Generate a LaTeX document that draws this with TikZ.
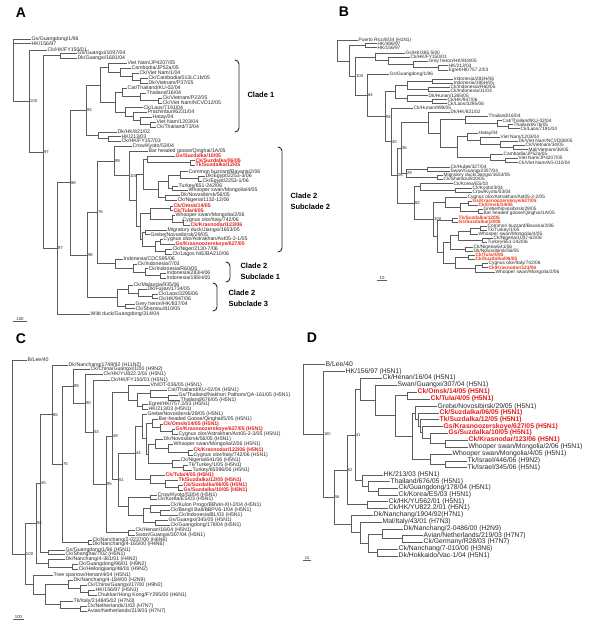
\documentclass[tikz,border=0pt]{standalone}
\usepackage{fontspec}
\setmainfont{Liberation Sans}
\usetikzlibrary{calc}

\definecolor{hired}{RGB}{226,30,28}
\definecolor{hiorange}{RGB}{236,58,22}
\definecolor{brgray}{RGB}{92,92,92}
\definecolor{txtgray}{RGB}{40,40,40}

\newcommand{\lfs}{5.2}
\newcommand{\fsz}[1]{\fontsize{#1}{#1}\selectfont}

\tikzset{
  br/.style={line width=0.6pt, brgray},
  lf/.style={anchor=west, inner sep=0.5pt, text=txtgray, font=\fsz{\lfs}},
  lfr/.style={lf, text=hired, font=\fsz{\lfs}\bfseries},
  bs/.style={anchor=west, inner sep=0.8pt, text=txtgray, font=\fsz{4.3}},
}

% leaf = end point of a branch + its label
\newcommand{\leaf}[4]{\coordinate (#1) at (#2,#3); \node[lf] (#1t) at (#1) {#4};}
\newcommand{\leafr}[4]{\coordinate (#1) at (#2,#3); \node[lfr] (#1t) at (#1) {#4};}
% clade: name, x, upper child, lower child (sits half way between them)
\newcommand{\clade}[4]{%
  \path let \p1=($(#3)!.5!(#4)$) in (#2pt,\y1) coordinate (#1);
  \draw[br] (#1) |- (#3);
  \draw[br] (#1) |- (#4);}
\newcommand{\cladeiii}[5]{%
  \path let \p1=($(#3)!.5!(#5)$) in (#2pt,\y1) coordinate (#1);
  \draw[br] (#1) |- (#3);
  \draw[br] (#1) |- (#4);
  \draw[br] (#1) |- (#5);}
\newcommand{\boot}[2]{\node[bs] (#1b) at (#1) {#2};}
% bracket: x, top, bottom
\newcommand{\brk}[3]{\draw[brc] ({#1-4},#2) to[out=0,in=90] (#1,{#2+4}) -- (#1,{#3-4}) to[out=-90,in=0] ({#1-4},#3);}

\begin{document}
\begin{tikzpicture}[x=1pt, y=-1pt,
  title/.style={font=\fsz{14}\bfseries, text=black},
  cladetxt/.style={anchor=west, align=left, font=\fontsize{7.5}{10.5}\selectfont\bfseries},
  brc/.style={line width=0.9pt, black!85, line cap=round},
  scl/.style={bs, anchor=south, inner sep=0.6pt}
]
\useasboundingbox (0,0) rectangle (600,630);
\fill[white] (0,0) rectangle (600,630);

%--- Panel A ---
\begin{scope}
\node[title] (ttlA) at (21,13) {A};
\leaf{a1}{31}{39.5}{Gs/Guangdong/1/96}
\leaf{a2}{31}{43.5}{HK/156/97}
\leaf{a3}{47}{50}{Ck/HK/FY150/01}
\leaf{a4}{77}{53.5}{Gs/Guangxi/1097/04}
\leaf{a5}{77}{58}{Dk/Guangxi/1681/04}
\leaf{a6}{127}{63}{Viet Nam/JP4207/05}
\leaf{a7}{131}{68}{Cambodia/JP52a/05}
\leaf{a8}{139}{73}{Ck/Viet Nam/1/04}
\leaf{a9}{148}{78}{Ck/Cambodia/013LC1b/05}
\leaf{a10}{148}{83}{Dk/Vietnam/P37/05}
\leaf{a11}{127}{88}{Cat/Thailand/KU-02/04}
\leaf{a12}{146}{93}{Thailand/16/04}
\leaf{a13}{162}{98}{Ck/Vietnam/P22/05}
\leaf{a14}{162}{103}{Ck/Viet Nam/NCVD12/05}
\leaf{a15}{143}{107.5}{Ck/Laos/7191/04}
\leaf{a16}{147}{112}{Prachinburi/6231/04}
\leaf{a17}{152}{117}{Hatay/04}
\leaf{a18}{156}{122}{Viet Nam/1203/04}
\leaf{a19}{156}{127}{Ck/Thailand/73/04}
\leaf{a20}{117}{132}{Dk/HK/821/02}
\leaf{a21}{121}{136.5}{HK/213/03}
\leaf{a22}{121}{141}{Ck/HK/FY157/03}
\leaf{a23}{132}{146}{Crow/Kyoto/53/04}
\leaf{a24}{148}{151}{Bar headed goose/Qinghai/1A/05}
\leafr{a25}{175}{156}{Gs/Suzdalka/10/05}
\leafr{a26}{195}{160.5}{Ck/Suzdalka/06/05}
\leafr{a27}{195}{165}{Tk/Suzdalka/12/05}
\leaf{a28}{188}{171.5}{Common buzzard/Bavaria/2/06}
\leaf{a29}{205}{176.5}{Dk/Egypt/2253-3/06}
\leaf{a30}{202}{181}{Ck/Egypt/2253-1/06}
\leaf{a31}{178}{186}{Turkey/651-242/06}
\leaf{a32}{188}{190.5}{Whooper swan/Mongolia/4/05}
\leaf{a33}{180}{195}{Dk/Novosibirsk/56/05}
\leaf{a34}{177}{200}{Ck/Nigeria/1132-12/06}
\leafr{a35}{173}{206}{Ck/Omsk/14/05}
\leafr{a36}{173}{210.5}{Ck/Tula/4/05}
\leaf{a37}{175}{215.5}{Whooper swan/Mongolia/2/06}
\leaf{a38}{182}{220}{Cygnus olor/Italy/742/06}
\leafr{a39}{190}{225}{Ck/Krasnodar/123/06}
\leaf{a40}{167}{230}{Migratory duck/Jiangxi/1653/05}
\leaf{a41}{150}{234.5}{Grebe/Novosibirsk/29/05}
\leaf{a42}{163}{239}{Cygnus olor/Astrakhan/Ast05-2-1/05}
\leafr{a43}{175}{244}{Gs/Krasnoozerskoye/627/05}
\leaf{a44}{172}{249}{Ck/Niger/2130-7/06}
\leaf{a45}{172}{254}{Ck/Lagos NIE/BA210/06}
\leaf{a46}{123}{259}{Indonesia/CDC595/06}
\leaf{a47}{137}{264}{Ck/Indonesia/7/03}
\leaf{a48}{148}{268.5}{Ck/Indonesia/R60/05}
\leaf{a49}{166}{273}{Indonesia/283H/06}
\leaf{a50}{166}{278}{Indonesia/195H/05}
\leaf{a51}{133}{285}{Ck/Malaysia/935/06}
\leaf{a52}{147}{289.5}{Dk/Fujian/1734/05}
\leaf{a53}{158}{294}{Ck/Laos/3295/06}
\leaf{a54}{158}{298.5}{Ck/HK/947/06}
\leaf{a55}{135}{304}{Grey heron/HK/837/04}
\leaf{a56}{135}{308.5}{Ck/Shantou/810/05}
\leaf{a57}{90}{314}{Wild duck/Guangdong/314/04}

% clade 1
\clade{ap1}{140}{a9}{a10}
\clade{ap2}{132}{a8}{ap1}
\clade{ap3}{120}{a7}{ap2}
\clade{ap4}{108}{a6}{ap3}
\clade{ap5}{158}{a13}{a14}
\clade{ap6}{140}{a12}{ap5}
\clade{ap7}{122}{a11}{ap6}
\clade{ap8}{150}{a18}{a19}
\clade{ap9}{140}{a17}{ap8}
\clade{ap10}{133}{a16}{ap9}
\clade{ap11}{125}{a15}{ap10}
\clade{ap12}{115}{ap7}{ap11}
\clade{acl1}{100}{ap4}{ap12}
\clade{ahk1}{108}{a21}{a22}
\clade{ahk}{98}{a20}{ahk1}
\clade{aN93}{86}{acl1}{ahk}
% clade 2, subclade 2
\clade{as1}{190}{a26}{a27}
\clade{as2}{147}{a25}{as1}
\clade{ae1}{198}{a29}{a30}
\clade{ae2}{180}{a28}{ae1}
\clade{atw}{172}{a31}{a32}
\clade{ae3}{168}{ae2}{atw}
\clade{ang}{165}{a33}{a34}
\clade{ae4}{158}{ae3}{ang}
\clade{aot}{170}{a35}{a36}
\clade{aik}{183}{a38}{a39}
\clade{awi}{172}{a37}{aik}
\clade{ae5}{150}{aot}{awi}
\clade{amg}{145}{a40}{a41}
\clade{aak}{160}{a42}{a43}
\clade{anl}{165}{a44}{a45}
\clade{ae6}{155}{aak}{anl}
\clade{ae7}{142}{amg}{ae6}
\clade{aq1}{143}{as2}{ae4}
\clade{aq2}{140}{ae5}{ae7}
\clade{aq}{136}{aq1}{aq2}
\clade{aqh}{129}{a24}{aq}
\clade{aN99}{114}{a23}{aqh}
% subclades 1 and 3
\clade{ai1}{160}{a49}{a50}
\clade{ai2}{145}{a48}{ai1}
\clade{ai3}{133}{a47}{ai2}
\clade{asc1}{115}{a46}{ai3}
\clade{aN76}{97}{aN99}{asc1}
\clade{am1}{152}{a53}{a54}
\clade{am2}{138}{a52}{am1}
\clade{am3}{128}{a51}{am2}
\clade{agh}{125}{a55}{a56}
\clade{asc3}{117}{am3}{agh}
\clade{aN98}{87}{aN76}{asc3}
% backbone
\clade{aN88}{70}{aN93}{aN98}
\clade{aN87}{57}{aN88}{a57}
\clade{agx}{60}{a4}{a5}
\clade{aN97}{43}{agx}{aN87}
\clade{aN100}{29}{a3}{aN97}
\cladeiii{aroot}{13}{a1}{a2}{aN100}

\boot{aN100}{100} \boot{aN97}{97} \boot{aN87}{87} \boot{aN88}{88}
\boot{aN93}{93} \boot{aN98}{98} \boot{aN76}{76} \boot{aN99}{99}
\boot{aqh}{100}

\brk{239}{60}{132}
\node[cladetxt] (acl1t) at (244,95) {Clade 1};
\brk{282}{147}{252}
\node[cladetxt] (acl22t) at (287,201.5) {Clade 2\\Subclade 2};
\brk{230}{262}{282}
\node[cladetxt] (acl21t) at (237,271.5) {Clade 2\\Subclade 1};
\brk{217}{283}{311}
\node[cladetxt] (acl23t) at (225,298.5) {Clade 2\\Subclade 3};

\draw[br] (13,321) -- (27,321);
\node[scl] (ascale) at (20,321) {100};
\end{scope}

%--- Panel B ---
\begin{scope}[lfr/.append style={text=hiorange}]
\renewcommand{\lfs}{4.8}
\node[title] (ttlB) at (344,12) {B};
\leaf{b1}{358}{40}{Puerto Rico/8/34 (H1N1)}
\leaf{b2}{377}{43.5}{HK/486/97}
\leaf{b3}{377}{47.5}{HK/156/97}
\leaf{b4}{405}{53}{Gs/HK/385.5/00}
\leaf{b5}{410}{57}{Ck/HK/FY150/01}
\leaf{b6}{428}{61}{Grey heron/HK/818/05}
\leaf{b7}{448}{65.5}{HK/213/03}
\leaf{b8}{448}{70}{Egret/HK/757.2/03}
\leaf{b9}{389}{74}{Gs/Guangdong/1/96}
\leaf{b10}{453}{79}{Indonesia/283H/06}
\leaf{b11}{453}{83}{Indonesia/195H/05}
\leaf{b12}{450}{87}{Ck/Indonesia/R60/05}
\leaf{b13}{450}{91}{Ck/Indonesia/11/03}
\leaf{b14}{428}{95.5}{Dk/Hunan/1265/05}
\leaf{b15}{447}{99.5}{Ck/HK/947/06}
\leaf{b16}{447}{103.5}{Ck/Laos/3295/06}
\leaf{b17}{413}{108}{Ck/Hunan/999/05}
\leaf{b18}{450}{112}{Dk/HK/821/02}
\leaf{b19}{488}{116}{Thailand/16/04}
\leaf{b20}{502}{120.5}{Cat/Thailand/KU-02/04}
\leaf{b21}{513}{124.5}{Thailand/676/05}
\leaf{b22}{520}{128.5}{Ck/Laos/7191/04}
\leaf{b23}{478}{133}{Hatay/04}
\leaf{b24}{500}{137}{Viet Nam/1203/04}
\leaf{b25}{518}{141}{Dk/Viet Nam/NCVD08/05}
\leaf{b26}{525}{145}{Ck/Vietnam/34/05}
\leaf{b27}{528}{149.5}{Mal/Vietnam/36/05}
\leaf{b28}{503}{154}{Cambodia/JP52a/05}
\leaf{b29}{518}{158}{Viet Nam/JP4207/05}
\leaf{b30}{518}{162.5}{Ck/Viet Nam/AG-010/04}
\leaf{b31}{450}{167}{Ck/Hubei/327/04}
\leaf{b32}{450}{171}{Swan/Guangxi/307/04}
\leaf{b33}{443}{175}{Migratory duck/Jiangxi/1653/05}
\leaf{b34}{443}{179}{Ck/Shantou/810/05}
\leaf{b35}{453}{183.5}{Ck/Korea/ES/03}
\leaf{b36}{472}{188}{Ck/Kyoto/3/04}
\leaf{b37}{472}{192}{Crow/Kyoto/53/04}
\leaf{b38}{467}{197}{Cygnus olor/Astrakhan/Ast05-2-2/05}
\leafr{b39}{472}{201}{Gs/Krasnoozerskoye/627/05}
\leafr{b40}{478}{205}{Ck/Omsk/14/05}
\leaf{b41}{483}{209}{Grebe/Novosibirsk/29/05}
\leaf{b42}{483}{213}{Bar headed goose/Qinghai/1A/05}
\leafr{b43}{458}{218}{Tk/Suzdalka/12/05}
\leafr{b44}{458}{222}{Gs/Suzdalka/10/05}
\leaf{b45}{487}{226}{Common buzzard/Bavaria/2/06}
\leaf{b46}{487}{230}{Tk/Turkey/1/05}
\leaf{b47}{478}{234}{Whooper swan/Mongolia/4/05}
\leaf{b48}{493}{238.5}{Ck/Nigeria/1047-62/06}
\leaf{b49}{487}{242.5}{Turkey/651-242/06}
\leaf{b50}{473}{247}{Ck/Nigeria/641/06}
\leaf{b51}{473}{251}{Dk/Novosibirsk/56/05}
\leafr{b52}{475}{255}{Ck/Tula/4/05}
\leafr{b53}{475}{259}{Ck/Suzdalka/06/05}
\leaf{b54}{488}{263.5}{Cygnus olor/Italy/742/06}
\leafr{b55}{488}{267.5}{Ck/Krasnodar/123/06}
\leaf{b56}{495}{272}{Whooper swan/Mongolia/2/06}

\clade{bhk}{365}{b2}{b3}
\clade{bg1}{438}{b7}{b8}
\clade{bg2}{413}{b6}{bg1}
\clade{bg3}{388}{b5}{bg2}
\clade{bg4}{375}{b4}{bg3}
\clade{bi1}{432}{b10}{b11}
\clade{bi2}{428}{b12}{b13}
\clade{bi3}{407}{bi1}{bi2}
\clade{bh1}{432}{b15}{b16}
\clade{bh2}{407}{b14}{bh1}
\clade{bi4}{395}{bi3}{bh2}
\clade{bt1}{508}{b21}{b22}
\clade{bt2}{497}{b20}{bt1}
\clade{bt3}{465}{b19}{bt2}
\clade{bv1}{513}{b26}{b27}
\clade{bv2}{500}{b25}{bv1}
\clade{bv3}{480}{b24}{bv2}
\clade{bv4}{467}{b23}{bv3}
\clade{bc1}{505}{b29}{b30}
\clade{bc2}{490}{b28}{bc1}
\clade{bv5}{457}{bv4}{bc2}
\clade{btv}{440}{bt3}{bv5}
\clade{bd1}{428}{b18}{btv}
\clade{bhs}{427}{b31}{b32}
\clade{bms}{437}{b33}{b34}
\clade{bN29}{406}{bhs}{bms}
\clade{bky}{455}{b36}{b37}
\clade{bk1}{420}{b35}{bky}
\clade{bq1a}{468}{b39}{b40}
\clade{bq1b}{478}{b41}{b42}
\clade{bq1c}{460}{bq1a}{bq1b}
\clade{bq1}{445}{b38}{bq1c}
\clade{bsu}{452}{b43}{b44}
\clade{bbb}{480}{b45}{b46}
\clade{bwh}{470}{b47}{bbb}
\clade{bng}{482}{b48}{b49}
\clade{bq3a}{458}{bwh}{bng}
\clade{bnd}{465}{b50}{b51}
\clade{bq3b}{450}{bq3a}{bnd}
\clade{bts}{468}{b52}{b53}
\clade{bik}{482}{b54}{b55}
\clade{bik2}{475}{bik}{b56}
\clade{bq3c}{455}{bts}{bik2}
\clade{bq3}{443}{bq3b}{bq3c}
\clade{bq2}{437}{bsu}{bq3}
\clade{bq}{433}{bq1}{bq2}
\clade{bN62}{414}{bk1}{bq}
\clade{bN36}{401}{bd1}{bN29}
\clade{bN26}{397}{bN36}{bN62}
\clade{bN40}{391}{b17}{bN26}
\clade{bN94}{385}{bi4}{bN40}
\clade{bN64}{367}{b9}{bN94}
\clade{bN100}{355}{bg4}{bN64}
\clade{bX1}{349}{bhk}{bN100}
\clade{broot}{337}{b1}{bX1}

\boot{bN100}{100} \boot{bN64}{64} \boot{bN94}{94} \boot{bN40}{40}
\boot{bN36}{36} \boot{bN29}{29} \boot{bN26}{26} \boot{bN62}{62}
\boot{bq}{100}

\draw[br] (377,280) -- (387,280);
\node[scl] (bscale) at (382,280) {10};
\end{scope}

%--- Panel C ---
\begin{scope}
\node[title] (ttlC) at (21,339) {C};
\leaf{c1}{27}{360}{B/Lee/40}
\leaf{c2}{68}{365}{Dk/Nanchang/1749/92 (H11N2)}
\leaf{c3}{90}{369.5}{Ck/China/Guangxi/1/00 (H9N2)}
\leaf{c4}{103}{374.5}{Ck/HK/YU822.2/01 (H5N1)}
\leaf{c5}{110}{380}{Ck/HK/FY150/01 (H5N1)}
\leaf{c6}{150}{385}{VN/DT-036/05 (H5N1)}
\leaf{c7}{167}{390}{Cat/Thailand/KU-02/04 (H5N1)}
\leaf{c8}{178}{395}{Gs/Thailand/Nakhon Pathom/QA-161/05 (H5N1)}
\leaf{c9}{180}{400}{Thailand/676/05 (H5N1)}
\leaf{c10}{148}{404.5}{Egret/HK/757.2/03 (H5N1)}
\leaf{c11}{148}{409}{HK/213/03 (H5N1)}
\leaf{c12}{147}{414}{Grebe/Novosibirsk/29/05 (H5N1)}
\leaf{c13}{158}{419}{Bar-headed Goose/Qinghai/5/05 (H5N1)}
\leafr{c14}{163}{424}{Ck/Omsk/14/05 (H5N1)}
\leafr{c15}{175}{429}{Gs/Krasnoozerskoye/627/05 (H5N1)}
\leaf{c16}{178}{434}{Cygnus olor/Astrakhan/Ast05-2-3/05 (H5N1)}
\leaf{c17}{163}{439.5}{Dk/Novosibirsk/56/05 (H5N1)}
\leaf{c18}{173}{444.5}{Whooper swan/Mongolia/2/06 (H5N1)}
\leafr{c19}{193}{450}{Ck/Krasnodar/123/06 (H5N1)}
\leaf{c20}{193}{455}{Cygnus olor/Italy/742/06 (H5N1)}
\leaf{c21}{180}{460}{Ck/Nigeria/641/06 (H5N1)}
\leaf{c22}{188}{465}{Tk/Turkey/1/05 (H5N1)}
\leaf{c23}{192}{470}{Turkey/65596/06 (H5N1)}
\leafr{c24}{165}{475}{Ck/Tula/4/05 (H5N1)}
\leafr{c25}{178}{480}{Tk/Suzdalka/12/05 (H5N1)}
\leafr{c26}{183}{485}{Ck/Suzdalka/06/05 (H5N1)}
\leafr{c27}{183}{490}{Gs/Suzdalka/10/05 (H5N1)}
\leaf{c28}{157}{495}{Crow/Kyoto/53/04 (H5N1)}
\leaf{c29}{157}{499.5}{Ck/Korea/ES/03 (H5N1)}
\leaf{c30}{170}{505}{Ck/Kulon Progo/BBVet-XII-2/04 (H5N1)}
\leaf{c31}{170}{510}{Ck/Bangli Bali/BBPV6-1/04 (H5N1)}
\leaf{c32}{178}{515}{Ck/Indonesia/BL/03 (H5N1)}
\leaf{c33}{168}{520}{Gs/Guangxi/345/05 (H5N1)}
\leaf{c34}{170}{525}{Ck/Guangdong/178/04 (H5N1)}
\leaf{c35}{135}{530}{Ck/Henan/16/04 (H5N1)}
\leaf{c36}{135}{535}{Swan/Guangxi/307/04 (H5N1)}
\leaf{c37}{92}{540}{Ck/Nanchang/2-0237/00 (H6N6)}
\leaf{c38}{92}{544.5}{Dk/Nanchang/4-165/00 (H4N6)}
\leaf{c39}{65}{550}{Gs/Guangdong/1/96 (H5N1)}
\leaf{c40}{65}{554.5}{Ck/Shanghai/7/02 (H5N1)}
\leaf{c41}{65}{559.5}{Dk/Nanchang/4-361/01 (H4N2)}
\leaf{c42}{78}{564.5}{Ck/Guangdong/96/01 (H9N2)}
\leaf{c43}{78}{569.5}{Ck/Heilongjiang/48/01 (H9N2)}
\leaf{c44}{53}{575}{Tree sparrow/Henan/4/04 (H5N1)}
\leaf{c45}{73}{580}{Dk/Nanchang/4-184/00 (H2N9)}
\leaf{c46}{87}{585}{Ck/China/Guangxi/17/00 (H9N2)}
\leaf{c47}{95}{590}{HK/156/97 (H5N1)}
\leaf{c48}{97}{595}{Chukkar/Hong Kong/FY295/00 (H6N1)}
\leaf{c49}{73}{601}{Tk/Italy/214845/02 (H7N3)}
\leaf{c50}{87}{606}{Ck/Netherlands/1/03 (H7N7)}
\leaf{c51}{87}{611}{Avian/Netherlands/219/03 (H7N7)}

\clade{ct1}{168}{c8}{c9}
\clade{ct2}{150}{c7}{ct1}
\clade{ceg}{142}{c10}{c11}
\clade{cty}{137}{ct2}{ceg}
\clade{cT}{128}{c6}{cty}
\clade{cu1}{172}{c15}{c16}
\clade{cu2}{160}{c14}{cu1}
\clade{cu3}{152}{c13}{cu2}
\clade{cu4}{188}{c19}{c20}
\clade{cu5}{168}{c18}{cu4}
\clade{cu6}{155}{c17}{cu5}
\clade{cu7}{183}{c22}{c23}
\clade{cu8}{172}{c21}{cu7}
\clade{cu9}{148}{cu6}{cu8}
\clade{cu10}{146}{cu3}{cu9}
\clade{cU}{142}{c12}{cu10}
\clade{cs1}{178}{c26}{c27}
\clade{cs2}{165}{c25}{cs1}
\clade{cS}{150}{c24}{cs2}
\clade{cN44}{135}{cU}{cS}
\clade{ccr}{150}{c28}{c29}
\clade{cid1}{160}{c31}{c32}
\clade{cid2}{150}{c30}{cid1}
\clade{cgg}{155}{c33}{c34}
\clade{cid3}{143}{cid2}{cgg}
\clade{cKI}{128}{ccr}{cid3}
\clade{cN51}{118}{cN44}{cKI}
\clade{cN49}{112}{cT}{cN51}
\clade{chn}{128}{c35}{c36}
\clade{cN95}{106}{cN49}{chn}
\clade{cN53}{93}{c5}{cN95}
\clade{cN90}{85}{c4}{cN53}
\clade{cN89}{73}{c3}{cN90}
\clade{cnp}{88}{c37}{c38}
\clade{cN75}{62}{cN89}{cnp}
\clade{cN65}{52}{c2}{cN75}
\clade{cgd}{48}{c39}{c40}
\clade{cN45}{40}{cN65}{cgd}
\clade{ch4a}{72}{c42}{c43}
\clade{ch4}{48}{c41}{ch4a}
\clade{cN92}{36}{cN45}{ch4}
\clade{ck1}{88}{c47}{c48}
\clade{ck2}{80}{c46}{ck1}
\clade{ck3}{68}{c45}{ck2}
\clade{ce1}{80}{c50}{c51}
\clade{ce2}{60}{c49}{ce1}
\clade{ck4}{45}{ck3}{ce2}
\clade{cH7}{33}{c44}{ck4}
\clade{cN100}{25}{cN92}{cH7}
\clade{croot}{12}{c1}{cN100}

\boot{cN89}{89} \boot{cN90}{90} \boot{cN65}{65} \boot{cN53}{53}
\boot{cN49}{49} \boot{cN44}{44} \boot{cN75}{75} \boot{cN51}{51}
\boot{cN45}{45} \boot{cN95}{95} \boot{cN92}{92} \boot{cN100}{100}

\draw[br] (13,619) -- (24,619);
\node[scl] (cscale) at (18.5,619) {100};
\end{scope}

%--- Panel D ---
\begin{scope}[bs/.append style={font=\fsz{4}}]
\renewcommand{\lfs}{6.8}
\node[title] (ttlD) at (312,338) {D};
\leaf{d1}{325}{364}{B/Lee/40}
\leaf{d2}{345}{371.5}{HK/156/97 (H5N1)}
\leaf{d3}{382}{378}{Ck/Henan/16/04 (H5N1)}
\leaf{d4}{397}{385}{Swan/Guangxi/307/04 (H5N1)}
\leafr{d5}{417}{392}{Ck/Omsk/14/05 (H5N1)}
\leafr{d6}{430}{399}{Ck/Tula/4/05 (H5N1)}
\leaf{d7}{437}{406.5}{Grebe/Novosibirsk/29/05 (H5N1)}
\leafr{d8}{439}{413}{Ck/Suzdalka/06/05 (H5N1)}
\leafr{d9}{439}{419.5}{Tk/Suzdalka/12/05 (H5N1)}
\leafr{d10}{443}{426.5}{Gs/Krasnoozerskoye/627/05 (H5N1)}
\leafr{d11}{448}{433}{Gs/Suzdalka/10/05 (H5N1)}
\leafr{d12}{468}{440}{Ck/Krasnodar/123/06 (H5N1)}
\leaf{d13}{468}{447}{Whooper swan/Mongolia/2/06 (H5N1)}
\leaf{d14}{452}{454}{Whooper swan/Mongolia/4/05 (H5N1)}
\leaf{d15}{467}{461}{Tk/Israel/446/06 (H9N2)}
\leaf{d16}{467}{467.5}{Tk/Israel/345/06 (H5N1)}
\leaf{d17}{383}{475}{HK/213/03 (H5N1)}
\leaf{d18}{390}{481.5}{Thailand/676/05 (H5N1)}
\leaf{d19}{398}{488}{Ck/Guangdong/178/04 (H5N1)}
\leaf{d20}{398}{495}{Ck/Korea/ES/03 (H5N1)}
\leaf{d21}{388}{501.5}{Ck/HK/YU562/01 (H5N1)}
\leaf{d22}{388}{508}{Ck/HK/YU822.2/01 (H5N1)}
\leaf{d23}{373}{515}{Dk/Nanchang/1904/92(H7N1)}
\leaf{d24}{382}{522}{Mal/Italy/43/01 (H7N3)}
\leaf{d25}{403}{529}{Dk/Nanchang/2-0486/00 (H2N9)}
\leaf{d26}{423}{535.5}{Avian/Netherlands/219/03 (H7N7)}
\leaf{d27}{423}{542}{Ck/Germany/R28/03 (H7N7)}
\leaf{d28}{398}{549}{Ck/Nanchang/7-010/00 (H3N6)}
\leaf{d29}{398}{556}{Dk/Hokkaido/Vac-1/04 (H5N1)}

\clade{ds1}{445}{d12}{d13}
\clade{ds2}{430}{d11}{ds1}
\clade{ds3}{422}{d10}{ds2}
\clade{ds4}{420}{d9}{ds3}
\clade{ds5}{418}{d8}{ds4}
\clade{ds6}{415}{d7}{ds5}
\clade{di1}{445}{d15}{d16}
\clade{di2}{430}{d14}{di1}
\clade{ds7}{412}{ds6}{di2}
\clade{dot}{407}{d5}{d6}
\clade{ds8}{395}{dot}{ds7}
\clade{ds9}{375}{d4}{ds8}
\clade{dA}{360}{d3}{ds9}
\clade{dg1}{378}{d19}{d20}
\clade{dg2}{368}{d18}{dg1}
\clade{dg3}{362}{d17}{dg2}
\clade{dN41}{355}{dA}{dg3}
\clade{dhy}{367}{d21}{d22}
\clade{dN62}{347}{dN41}{dhy}
\clade{dh1}{402}{d26}{d27}
\clade{dh2}{382}{d25}{dh1}
\clade{dh3}{377}{d28}{d29}
\clade{dh4}{368}{dh2}{dh3}
\clade{dh5}{360}{d24}{dh4}
\clade{dH7}{351}{d23}{dh5}
\clade{dN58}{334}{dN62}{dH7}
\clade{dN100}{323}{d2}{dN58}
\clade{droot}{303}{d1}{dN100}

\boot{dN100}{100} \boot{dN41}{41} \boot{dN62}{62} \boot{dN58}{58}

\draw[br] (303,560) -- (311,560);
\node[scl] (dscale) at (307,560) {10};
\end{scope}

\end{tikzpicture}
\end{document}
